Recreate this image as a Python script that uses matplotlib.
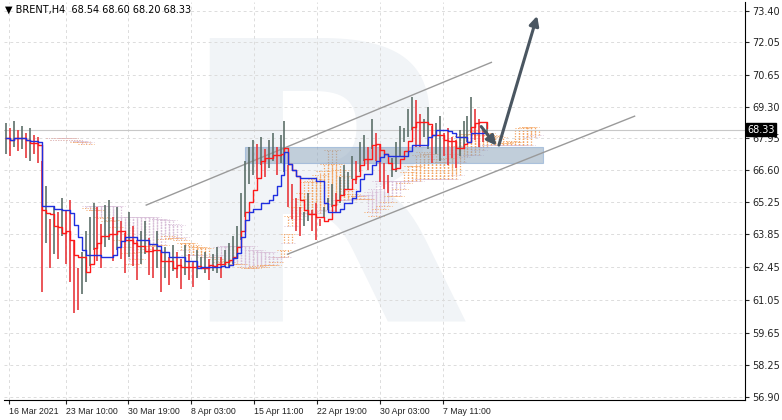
import numpy as np
import pandas as pd
import matplotlib

matplotlib.use("Agg")
import matplotlib.pyplot as plt

# H4 bars (compressed), highs / lows
highs = [68.6, 68.4, 68.7, 68.3, 68.5, 68.2, 68.4, 68.1, 68.0,
         67.0,
         65.9, 64.5, 65.0, 64.8, 65.4, 64.9, 65.3,
         63.6, 62.4, 63.1,
         64.0, 64.6, 65.2, 65.0, 64.3, 65.1,
         65.3, 64.6, 65.0, 64.4, 63.9, 64.8, 64.2, 63.6, 64.0, 64.4, 63.7, 63.3, 64.0, 63.2,
         63.3, 62.9, 63.4, 63.1, 62.8, 63.4, 63.0, 62.7, 63.2, 62.9, 63.1, 62.8, 63.0, 63.3, 62.9, 63.2, 63.5, 63.8,
         64.2, 65.6, 67.0, 67.6, 67.9,
         67.7, 68.0, 67.5, 67.9, 68.2, 67.6, 68.1, 68.7,
         66.8, 66.0, 65.4, 65.0, 64.8, 65.6, 64.9, 65.2, 64.5, 65.0, 65.4, 66.0, 65.6, 66.3,
         66.8, 66.5, 67.2, 67.0, 67.8, 68.1, 67.6, 68.8,
         68.2, 67.7, 66.9, 66.4, 67.1, 67.8,
         68.5, 68.4, 69.2, 69.7, 69.6,
         69.0, 68.8, 69.3, 68.5, 68.6, 68.9, 68.2, 68.4, 68.0, 67.9, 68.3, 68.7,
         68.9, 69.7, 69.2, 68.8, 68.4, 68.6]
lows = [67.3, 67.2, 67.6, 67.4, 67.5, 67.1, 67.0, 67.3, 66.9,
        61.4,
        63.5, 62.4, 63.0, 62.8, 63.8, 62.6, 61.8,
        60.5, 60.6, 61.3,
        61.8, 62.5, 63.2, 62.7, 62.4, 63.3,
        63.6, 62.7, 63.2, 62.8, 62.2, 62.9, 62.5, 61.9, 62.6, 63.0, 62.1, 62.0, 62.4, 61.4,
        62.0, 61.7, 62.3, 62.0, 61.5, 62.1, 61.9, 61.6, 62.0, 62.4, 62.2, 61.9, 62.3, 62.2, 62.0, 62.5, 62.4, 62.6,
        62.9, 63.6, 64.6, 66.0, 66.4,
        66.2, 66.8, 66.3, 66.7, 67.0, 66.4, 66.9, 66.5,
        65.0, 64.5, 64.0, 63.8, 64.2, 64.4, 64.0, 63.6, 64.2, 64.6, 64.9, 65.0, 64.8, 65.2,
        65.5, 65.8, 66.2, 66.0, 66.5, 67.0, 66.6, 67.5,
        67.0, 66.1, 65.8, 65.6, 66.3, 66.5,
        67.2, 67.8, 68.0, 68.3, 67.6,
        67.6, 68.0, 67.5, 66.9, 67.3, 67.0, 67.2, 66.8, 67.1, 66.7, 67.2, 67.5,
        67.8, 68.2, 67.9, 67.6, 67.8, 68.2]

price_ticks = [73.40, 72.05, 70.65, 69.30, 67.95, 66.60, 65.25, 63.85, 62.45, 61.05, 59.65, 58.25, 56.90]
date_labels = ["16 Mar 2021", "23 Mar 10:00", "30 Mar 19:00", "8 Apr 03:00",
               "15 Apr 11:00", "22 Apr 19:00", "30 Apr 03:00", "7 May 11:00"]
date_pos = [0.75, 15.0, 30.75, 46.5, 62.25, 78.25, 94.0, 109.75]
last_price = 68.33

df = pd.DataFrame({"h": highs, "l": lows})
n = len(df)
idx = np.arange(n)
mid = (df.h + df.l) / 2
up = mid.diff().fillna(0) >= 0

# Ichimoku-like lines, compressed periods
tenkan = (df.h.rolling(4, min_periods=1).max() + df.l.rolling(4, min_periods=1).min()) / 2
kijun = (df.h.rolling(10, min_periods=1).max() + df.l.rolling(10, min_periods=1).min()) / 2
span_a = (tenkan + kijun) / 2
span_b = (df.h.rolling(24, min_periods=1).max() + df.l.rolling(24, min_periods=1).min()) / 2
shift = 12

fig = plt.figure(figsize=(7.82, 4.20), dpi=100)
ax = fig.add_axes([4 / 782, 20 / 420, 741 / 782, 398 / 420])
ax.set_xlim(-0.5, 185.75)
ax.set_ylim(56.77, 73.78)

# watermark
ax.text(0.43, 0.47, "R", transform=ax.transAxes, fontsize=280, fontweight="bold",
        color="#f1f4f7", ha="center", va="center", zorder=0)

for p in price_ticks:
    ax.axhline(p, color="#dcdcdc", lw=0.7, ls=(0, (3, 3)), zorder=1)
for d in date_pos:
    ax.axvline(d, color="#dcdcdc", lw=0.7, ls=(0, (3, 3)), zorder=1)

# cloud as dotted hatching
for i in range(n):
    x = i + shift
    a, b = span_a[i], span_b[i]
    col = "#f4a460" if a >= b else "#d8bfd8"
    ax.vlines([x - 1, x, x + 1], min(a, b), max(a, b), colors=col, lw=0.9, ls=(0, (1, 1.2)), zorder=2)
    ax.plot([x - 2, x + 2], [a, a], color="#f4a460", lw=0.7, ls=":", zorder=2)
    ax.plot([x - 2, x + 2], [b, b], color="#d8bfd8", lw=0.7, ls=":", zorder=2)

# support zone
ax.fill_between([60, 135], 66.9, 67.6, color="#8fa6bd", alpha=0.55, ec="#7fa3d0", lw=0.8, zorder=3)

# bars
colors = np.where(up, "#5d706a", "#e8383c")
ax.vlines(idx, df.l, df.h, colors=colors, lw=1.2, zorder=4)
ax.plot(idx, tenkan, color="#ff1a1a", lw=1.0, drawstyle="steps-post", zorder=5)
ax.plot(idx, kijun, color="#1f2fe0", lw=1.0, drawstyle="steps-post", zorder=5)

# channel
ax.plot([35.25, 122], [65.1, 71.2], color="#9a9a9a", lw=1.0, zorder=3)
ax.plot([70.75, 158], [63.0, 68.9], color="#9a9a9a", lw=1.0, zorder=3)

# arrows
ax.annotate("", xy=(123.7, 67.55), xytext=(119, 68.55),
            arrowprops=dict(arrowstyle="-|>", color="#4a5661", lw=2.2, mutation_scale=14), zorder=6)
ax.annotate("", xy=(133.7, 73.3), xytext=(123.7, 67.55),
            arrowprops=dict(arrowstyle="-|>", color="#4a5661", lw=2.2, mutation_scale=14), zorder=6)

ax.axhline(last_price, color="#c8c8c8", lw=0.8, zorder=2)

ax.yaxis.tick_right()
ax.set_yticks(price_ticks)
ax.set_yticklabels([f"{p:.2f}" for p in price_ticks], fontsize=7)
ax.set_xticks(date_pos)
ax.set_xticklabels(date_labels, fontsize=6.3, ha="left", family="Liberation Sans")
ax.tick_params(length=3, pad=2, colors="#222222")
for s in ["top", "left"]:
    ax.spines[s].set_visible(False)
ax.text(1.003, last_price, f"{last_price:.2f}", transform=ax.get_yaxis_transform(),
        fontsize=7, color="white", va="center", ha="left",
        bbox=dict(boxstyle="square,pad=0.15", fc="black", ec="black"), zorder=7)

fig.text(5 / 782, 1 - 10 / 420, "▼ BRENT,H4  68.54 68.60 68.20 68.33", fontsize=7, va="center")

fig.savefig("out.png", dpi=100)
